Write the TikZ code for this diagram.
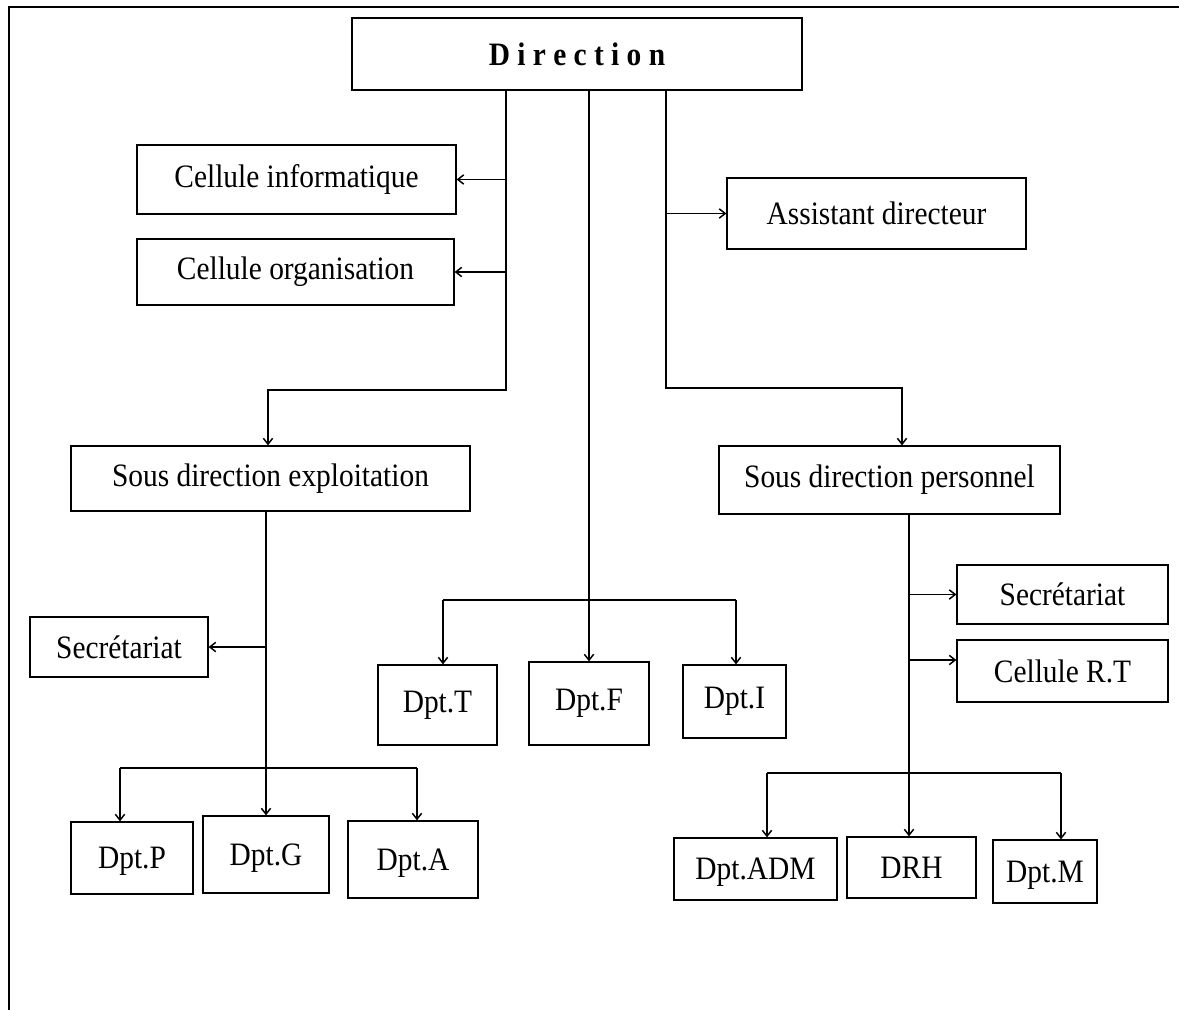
\documentclass[tikz,border=0pt]{standalone}
\usepackage{fontspec}
\setmainfont{Liberation Serif}[FakeStretch=0.9]
\usetikzlibrary{arrows.meta}

% a framed unit given by its corners (in px) and its label
\newcommand\orgbox[7][]{%
  \node[box, minimum width={(#5-#3)*0.75pt}, minimum height={(#6-#4)*0.75pt}, #1]
    (#2) at ({(#3+#5)/2},{(#4+#6)/2}) {#7};}

\begin{document}
\begin{tikzpicture}[x=0.75pt, y=-0.75pt,
  box/.style={draw, line width=0.9pt, inner sep=0pt,
              font=\fontsize{24.5}{28}\selectfont},
  link/.style={line width=1.2pt},
  arr/.style={link, -{Straight Barb[length=4.5pt,width=7pt,line width=1.1pt]}}]

\useasboundingbox (0,0) rectangle (1179,1010);

% page frame (top and left rules)
\draw[line width=1.4pt] (1179,7) -- (9,7) -- (9,1010);

% units
\orgbox{dir}{352}{18}{802}{90}{\bfseries D\hspace{5.5pt}i\hspace{5.5pt}r\hspace{5.5pt}e\hspace{5.5pt}c\hspace{5.5pt}t\hspace{5.5pt}i\hspace{5.5pt}o\hspace{5.5pt}n}
\orgbox{ci}{137}{145}{456}{214}{Cellule informatique}
\orgbox{co}{137}{239}{454}{305}{Cellule organisation}
\orgbox{ad}{727}{178}{1026}{249}{Assistant directeur}
\orgbox{sde}{71}{446}{470}{511}{Sous direction exploitation}
\orgbox{sdp}{719}{446}{1060}{514}{Sous direction personnel}
\orgbox{sec1}{30}{617}{208}{677}{Secrétariat}
\orgbox{sec2}{957}{565}{1168}{624}{Secrétariat}
\orgbox{crt}{957}{640}{1168}{702}{Cellule R.T}
\orgbox{dT}{378}{665}{497}{745}{Dpt.T}
\orgbox{dF}{529}{662}{649}{745}{Dpt.F}
\orgbox{dI}{683}{665}{786}{738}{Dpt.I}
\orgbox[text depth=0pt]{dP}{71}{822}{193}{894}{Dpt.P}
\orgbox[text depth=0pt]{dG}{203}{816}{329}{893}{Dpt.G}
\orgbox[text depth=0pt]{dA}{348}{821}{478}{898}{Dpt.A}
\orgbox[text depth=0pt]{dADM}{674}{838}{837}{900}{Dpt.ADM}
\orgbox{drh}{847}{837}{976}{898}{DRH}
\orgbox[text depth=0pt]{dM}{993}{840}{1097}{903}{Dpt.M}

% trunks and bends
\coordinate (xa) at (506,0);
\coordinate (xc) at (666,0);
\coordinate (xe) at (909,0);
\coordinate (ka) at (268,390);
\coordinate (kc) at (902,388);

% left trunk: cells and exploitation
\draw[arr] (dir.south -| xa) |- (ka) -- (ka |- sde.north);
\draw[arr] (ci.east -| xa) -- (ci.east);
\draw[arr] (co.east -| xa) -- (co.east);

% middle trunk: departments T, F, I
\coordinate (bT) at (443,600);
\coordinate (bI) at (736,600);
\draw[arr] (dir.south -| dF.north) -- (dF.north);
\draw[link] (bT) -- (bI);
\draw[arr] (bT) -- (bT |- dT.north);
\draw[arr] (bI) -- (bI |- dI.north);

% right trunk: assistant and personnel
\draw[arr] (dir.south -| xc) |- (kc) -- (kc |- sdp.north);
\draw[arr] (ad.west -| xc) -- (ad.west);

% exploitation branch
\draw[arr] (sde.south -| dG.north) -- (dG.north);
\draw[arr] (sec1.east -| dG.north) -- (sec1.east);
\coordinate (bP) at (120,768);
\coordinate (bA) at (417,768);
\draw[link] (bP) -- (bA);
\draw[arr] (bP) -- (bP |- dP.north);
\draw[arr] (bA) -- (bA |- dA.north);

% personnel branch
\draw[arr] (sdp.south -| xe) -- (xe |- drh.north);
\draw[arr] (sec2.west -| xe) -- (sec2.west);
\coordinate (cr) at (909,660);
\draw[arr] (cr) -- (cr -| crt.west);
\coordinate (bL) at (767,773);
\coordinate (bR) at (1061,773);
\draw[link] (bL) -- (bR);
\draw[arr] (bL) -- (bL |- dADM.north);
\draw[arr] (bR) -- (bR |- dM.north);

\end{tikzpicture}
\end{document}
